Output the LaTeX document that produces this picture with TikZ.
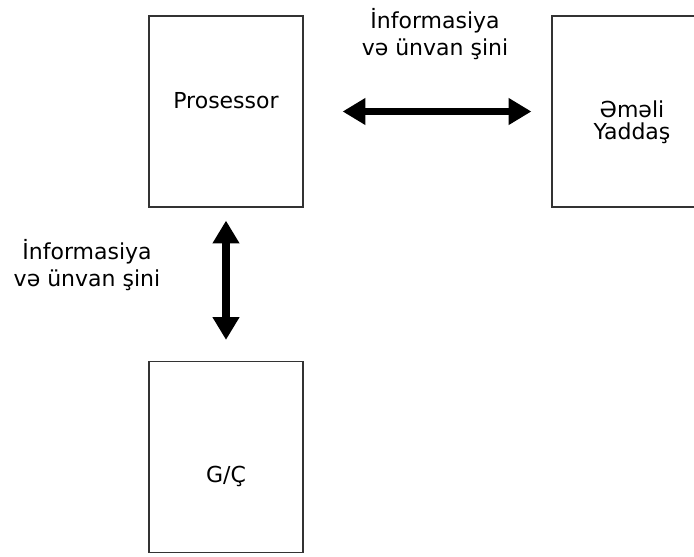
\documentclass[tikz,border=0pt]{standalone}
\usepackage{fontspec}
\setmainfont{DejaVu Sans}
\usetikzlibrary{arrows.meta}
\begin{document}
\begin{tikzpicture}[x=0.75pt,y=-0.75pt,
  box/.style={draw=black!80,line width=0.9pt,fill=white,minimum width=115.5pt,minimum height=143.25pt,inner sep=0pt},
  txt/.style={font=\fontsize{16.5pt}{20.25pt}\selectfont,inner sep=0pt,align=center,anchor=base},
  bus/.style={line width=5.4pt,{Triangle[width=19pt,length=17pt]}-{Triangle[width=19pt,length=17pt]}}]
\clip (0,0) rectangle (694,557);
\fill[white] (0,0) rectangle (694,557);
\node[box] (proc) at (226,111.5) {};
\node[box,minimum width=120pt] (mem) at (632,111.5) {};
\node[box] (io) at (226,457) {};
\node[txt] (tproc) at (226,108) {Prosessor};
\node[txt,font=\fontsize{16.5pt}{16.5pt}\selectfont] (tmem) at (632,139) {Əməli\\Yaddaş};
\node[txt] (tio) at (226,482) {G/Ç};
\node[txt] (ltop) at (435,55) {İnformasiya\\və ünvan şini};
\node[txt] (lleft) at (87,286) {İnformasiya\\və ünvan şini};
\draw[bus,shorten <=29.25pt,shorten >=15pt] (proc.east) -- (mem.west);
\draw[bus,shorten <=9.75pt,shorten >=15.75pt] (proc.south) -- (io.north);
\end{tikzpicture}
\end{document}
